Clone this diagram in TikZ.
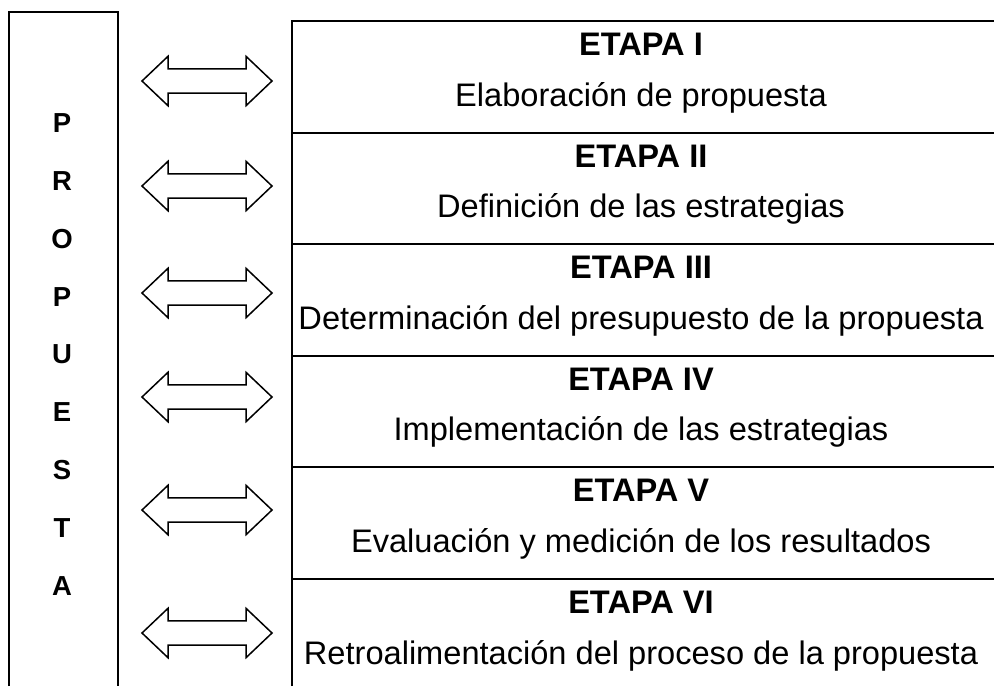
\documentclass[tikz,border=0pt]{standalone}
\usepackage{fontspec}
\setmainfont{Liberation Sans}
\begin{document}
\begin{tikzpicture}[x=1pt,y=-1pt,
  rowline/.style={line width=2pt},
  boxline/.style={line width=1.4pt},
  etapa/.style={anchor=base, inner sep=0pt, font=\fontsize{32.6}{38}\selectfont\bfseries},
  desc/.style={anchor=base, inner sep=0pt, font=\fontsize{32.6}{38}\selectfont},
  letter/.style={anchor=base, inner sep=0pt, font=\fontsize{27.5}{33}\selectfont\bfseries},
  dblarrow/.style={draw, line width=1.5pt, line join=miter, fill=white}]
\useasboundingbox (0,0) rectangle (994,686);
% left box (open at bottom)
\draw[boxline] (9,686) -- (9,12) -- (118,12) -- (118,686);
\foreach \l [count=\k from 0] in {P,R,O,P,U,E,S,T,A}{
  \node[letter] (L\k) at (62,{132.7+57.8*\k}) {\l};
}
% table
\draw[rowline] (292,686) -- (292,21) -- (994,21);
\foreach \k/\e/\d in {0/I/Elaboración de propuesta,
                      1/II/Definición de las estrategias,
                      2/III/Determinación del presupuesto de la propuesta,
                      3/IV/Implementación de las estrategias,
                      4/V/Evaluación y medición de los resultados,
                      5/VI/Retroalimentación del proceso de la propuesta}{
  \pgfmathsetmacro{\rtop}{21+111.6*\k}
  \ifnum\k>0 \draw[rowline] (292,\rtop) -- (994,\rtop); \fi
  \node[etapa] (E\k) at (641,{\rtop+34.5}) {ETAPA \e};
  \node[desc] (D\k) at (641,{\rtop+85}) {\d};
}
% double arrows
\foreach \y [count=\k] in {81,186,293,397,510,633}{
  \draw[dblarrow] (142,\y) -- (168,{\y-24.7}) -- (168,{\y-12.2}) -- (246,{\y-12.2})
     -- (246,{\y-24.7}) -- (272,\y) -- (246,{\y+24.7}) -- (246,{\y+12.2})
     -- (168,{\y+12.2}) -- (168,{\y+24.7}) -- cycle;
}
\end{tikzpicture}
\end{document}
